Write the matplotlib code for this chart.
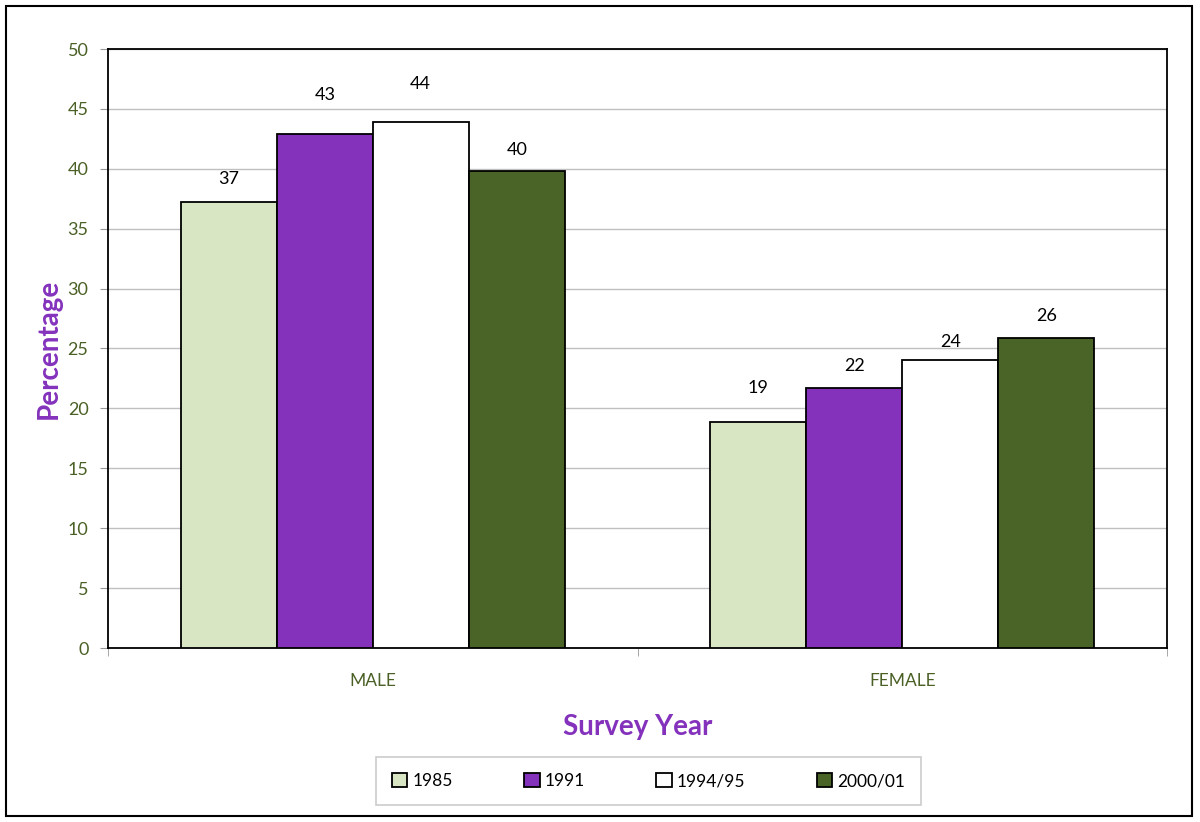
import matplotlib
matplotlib.use("Agg")
import matplotlib.pyplot as plt
from matplotlib.patches import Rectangle
import numpy as np

categories = ["MALE", "FEMALE"]
series = ["1985", "1991", "1994/95", "2000/01"]
values = {
    "1985": [37.2, 18.9],
    "1991": [42.9, 21.7],
    "1994/95": [43.9, 24.0],
    "2000/01": [39.8, 25.9],
}
labels = {
    "1985": ["37", "19"],
    "1991": ["43", "22"],
    "1994/95": ["44", "24"],
    "2000/01": ["40", "26"],
}
colors = {"1985": "#d8e6c4", "1991": "#8432bc", "1994/95": "#ffffff", "2000/01": "#4a6327"}
yticks = list(range(0, 51, 5))
# label offset above bar top (pixels), as placed in the original
label_offsets = {
    "1985": [23, 34],
    "1991": [39, 22],
    "1994/95": [38, 18],
    "2000/01": [21, 22],
}

plt.rcParams['font.family'] = ['Lato', 'DejaVu Sans']
tick_color = "#4a6025"
purple = "#8432bc"

fig = plt.figure(figsize=(12, 8.22), dpi=100)
fig.patches.append(Rectangle((6/1200, 6/822), 1186/1200, 810/822, transform=fig.transFigure,
                             fill=False, edgecolor="black", linewidth=1.5, zorder=10))
ax = fig.add_axes([108/1200, 1-648/822, (1167-108)/1200, (648-49)/822])

x = np.arange(len(categories))
w = 0.1813
for i, s in enumerate(series):
    pos = x + (i - 1.5) * w
    ax.bar(pos, values[s], width=w, color=colors[s], edgecolor="black", linewidth=1.3, zorder=3, label=s)
    for px, v, lab, off in zip(pos, values[s], labels[s], label_offsets[s]):
        ax.annotate(lab, (px, v), xytext=(0, off * 0.72), textcoords="offset points",
                    ha="center", va="center", fontsize=13, color="black")

ax.set_xlim(-0.5, 1.5)
ax.set_ylim(0, 50)
ax.set_yticks(yticks)
ax.set_yticklabels([str(t) for t in yticks], fontsize=13, color=tick_color)
ax.yaxis.grid(True, color="#bfbfbf", linewidth=1, zorder=0)
ax.set_axisbelow(True)
ax.set_xticks(x)
ax.set_xticklabels(categories, fontsize=12.5, color=tick_color)
ax.set_xticks([-0.5, 0.5, 1.5], minor=True)
ax.tick_params(axis="x", which="major", length=0, pad=18)
ax.tick_params(axis="x", which="minor", length=6, color="#999999")
ax.tick_params(axis="y", length=6, color="#999999", pad=8)
for sp in ax.spines.values():
    sp.set_linewidth(1.3)
    sp.set_color("black")

ax.set_ylabel("Percentage", fontsize=20, fontweight="bold", color=purple, labelpad=4)
ax.set_xlabel("Survey Year", fontsize=20, fontweight="bold", color=purple, labelpad=18)

leg = fig.legend(loc="center", bbox_to_anchor=(648.5/1200, 1-781/822), ncol=4, frameon=True,
                 fontsize=12.5, handlelength=0.9, handleheight=0.9, columnspacing=4.1,
                 handletextpad=0.3, fancybox=False, borderpad=0.9)
leg.get_frame().set_edgecolor("#bfbfbf")
leg.get_frame().set_linewidth(1.2)

fig.savefig("out.png", dpi=100)
